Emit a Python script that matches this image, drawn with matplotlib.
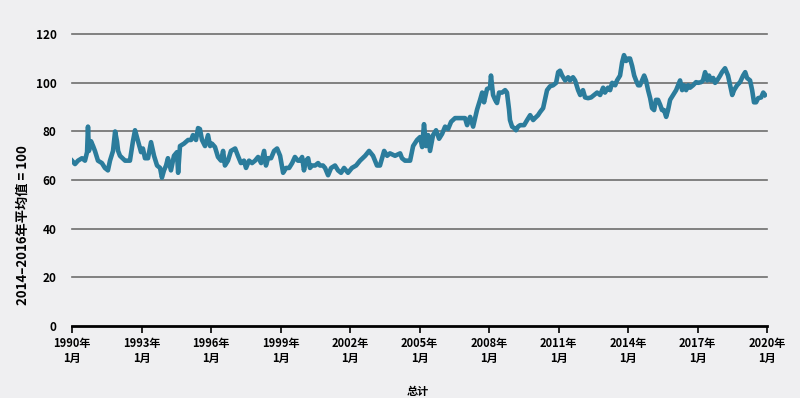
import matplotlib.pyplot as plt
import numpy as np

# decimal-year offsets from 1990 and index values
t_off = [0.0, 0.13, 0.26, 0.43, 0.56, 0.65, 0.69, 0.73, 0.82, 0.91, 0.99, 1.12, 1.29, 1.42,
         1.55, 1.64, 1.77, 1.86, 1.94, 1.99, 2.07, 2.29, 2.50, 2.63, 2.72, 2.85, 2.98, 3.06,
         3.15, 3.28, 3.41, 3.54, 3.67, 3.80, 3.88, 3.97, 4.06, 4.14, 4.27, 4.40, 4.53, 4.58,
         4.66, 4.83, 5.01, 5.14, 5.22, 5.35, 5.44, 5.52, 5.61, 5.74, 5.87, 5.96, 6.04, 6.17,
         6.30, 6.43, 6.52, 6.60, 6.73, 6.86, 7.04, 7.16, 7.29, 7.42, 7.51, 7.64, 7.77, 7.90,
         8.03, 8.16, 8.29, 8.37, 8.46, 8.59, 8.72, 8.85, 8.98, 9.11, 9.24, 9.37, 9.50, 9.62,
         9.75, 9.84, 9.93, 10.01, 10.10, 10.19, 10.27, 10.36, 10.49, 10.62, 10.70, 10.83,
         10.92, 11.05, 11.18, 11.35, 11.48, 11.61, 11.74, 11.91, 12.08, 12.26, 12.43, 12.65,
         12.82, 12.99, 13.16, 13.29, 13.47, 13.60, 13.72, 13.94, 14.16, 14.24, 14.37, 14.59,
         14.72, 14.89, 15.02, 15.11, 15.19, 15.28, 15.37, 15.45, 15.58, 15.71, 15.84, 15.97,
         16.10, 16.23, 16.36, 16.53, 16.66, 16.83, 16.96, 17.05, 17.18, 17.31, 17.48, 17.61,
         17.70, 17.78, 17.91, 18.04, 18.08, 18.17, 18.26, 18.34, 18.43, 18.56, 18.69, 18.77,
         18.86, 18.90, 18.99, 19.08, 19.16, 19.25, 19.34, 19.51, 19.64, 19.77, 19.90, 19.98,
         20.11, 20.20, 20.33, 20.41, 20.50, 20.63, 20.76, 20.89, 20.98, 21.06, 21.15, 21.28,
         21.41, 21.49, 21.62, 21.71, 21.84, 21.93, 22.05, 22.14, 22.27, 22.40, 22.53, 22.66,
         22.79, 22.92, 23.00, 23.13, 23.22, 23.31, 23.44, 23.52, 23.65, 23.74, 23.82, 23.91,
         24.00, 24.08, 24.17, 24.26, 24.34, 24.43, 24.51, 24.60, 24.69, 24.77, 24.86, 24.95,
         25.03, 25.12, 25.20, 25.29, 25.38, 25.46, 25.55, 25.64, 25.72, 25.81, 25.94, 26.07,
         26.24, 26.33, 26.41, 26.50, 26.59, 26.67, 26.80, 26.93, 27.02, 27.15, 27.23, 27.32,
         27.41, 27.49, 27.58, 27.67, 27.75, 27.84, 27.97, 28.05, 28.18, 28.31, 28.40, 28.49,
         28.57, 28.70, 28.83, 28.96, 29.05, 29.13, 29.26, 29.35, 29.43, 29.52, 29.61, 29.74,
         29.83, 29.91]
values = [68, 66.6, 68, 69, 68, 71.5, 82, 72, 76, 74, 72, 68, 67, 65,
          64, 68, 72, 80, 76, 72, 70, 68, 68, 76, 80.5, 76, 71.5, 73,
          69, 69, 75.6, 70, 66, 65, 61, 64, 66, 69, 64, 70, 71.5, 63,
          74, 75, 76.5, 76.5, 78.5, 76.5, 81.4, 81, 76.5, 74, 78.5, 74, 75, 73.6,
          69.5, 68, 72, 66, 68, 72, 73, 70, 67, 68, 65, 68, 67, 68,
          69.5, 67, 72, 66, 69, 69, 72, 73, 70, 63, 65, 65, 67, 69.5,
          68, 68, 69.5, 64, 68, 69, 65, 66, 66, 67, 66, 66,
          65, 62, 65, 66, 64, 63, 65, 63, 65, 66, 68, 70,
          72, 70, 66, 66, 72, 70, 71, 70, 71, 69, 68, 68,
          74, 76.5, 77.7, 73.6, 83, 74, 78.5, 72, 78.5, 80.5, 77, 79,
          82, 81, 84, 85.5, 85.5, 85.5, 85.5, 82.6, 86, 82, 89, 93,
          96, 92, 97.5, 98, 103, 95, 93, 91.7, 96, 96, 97, 96,
          89, 84.7, 82, 81.4, 80.5, 82, 82.6, 82.6, 84.7, 86.7, 84.7, 85.5,
          86.7, 88, 89.6, 93, 97, 98.6, 99, 100, 104.4, 105, 103, 101,
          102.3, 101, 102.3, 101, 97, 95, 97, 94, 93.7, 94, 95, 96,
          95, 98, 96, 98, 97, 100, 99, 101, 103, 108.5, 111.4, 109,
          110, 110, 107, 103, 101, 99, 99, 101, 103, 101, 97, 93.7,
          89.6, 88.8, 93, 93, 91, 88.8, 88.8, 86, 88.8, 93, 95, 97,
          101, 97, 99, 97, 99, 98, 99, 100.3, 100, 100.3, 101, 104.4,
          101, 103, 101, 102, 100, 101, 103, 104.4, 106, 103, 99, 95,
          97, 99, 100.3, 103, 104.4, 102, 101, 97, 92, 92, 93.7, 94,
          96, 95]
tick_years = [1990, 1993, 1996, 1999, 2002, 2005, 2008, 2011, 2014, 2017, 2020]
tick_labels = [f"{y}年\n1月" for y in tick_years]

dates = 1990 + np.array(t_off)

bg = '#efeff1'
cjk = ['Noto Sans CJK SC', 'DejaVu Sans']

fig = plt.figure(figsize=(8, 3.98), dpi=100, facecolor=bg)
ax = fig.add_axes([0.09, 0.181, 0.869, 0.733], facecolor=bg)

for g in [20, 40, 60, 80, 100, 120]:
    ax.axhline(g, color='#6e6e6e', lw=1.2, zorder=1, clip_on=False)

ax.plot(dates, values, color='#2b7c9c', lw=3.3, solid_joinstyle='round', zorder=3)

ax.set_xlim(1990, 2020)
ax.set_ylim(0, 120)
ax.set_yticks([0, 20, 40, 60, 80, 100, 120])
ax.set_yticklabels(['0', '20', '40', '60', '80', '100', '120'],
                   fontsize=8.5, fontweight='bold', family=cjk)
ax.set_xticks(tick_years)
ax.set_xticklabels(tick_labels, fontsize=8, fontweight='bold', family=cjk,
                   linespacing=1.15)
ax.tick_params(axis='y', length=0, pad=11)
ax.tick_params(axis='x', length=5, width=1.2, color='black', pad=3, direction='out')

for s in ['top', 'right', 'left']:
    ax.spines[s].set_visible(False)
ax.spines['bottom'].set_linewidth(2)
ax.spines['bottom'].set_color('black')

fig.text(0.028, 0.435, '2014–2016年平均值 = 100', fontsize=9.5, fontweight='bold',
         family=cjk, rotation=90, ha='center', va='center')
fig.text(0.508, 0.008, '总计', fontsize=8, fontweight='bold', family=cjk)

fig.savefig('out.png', dpi=100, facecolor=bg)
